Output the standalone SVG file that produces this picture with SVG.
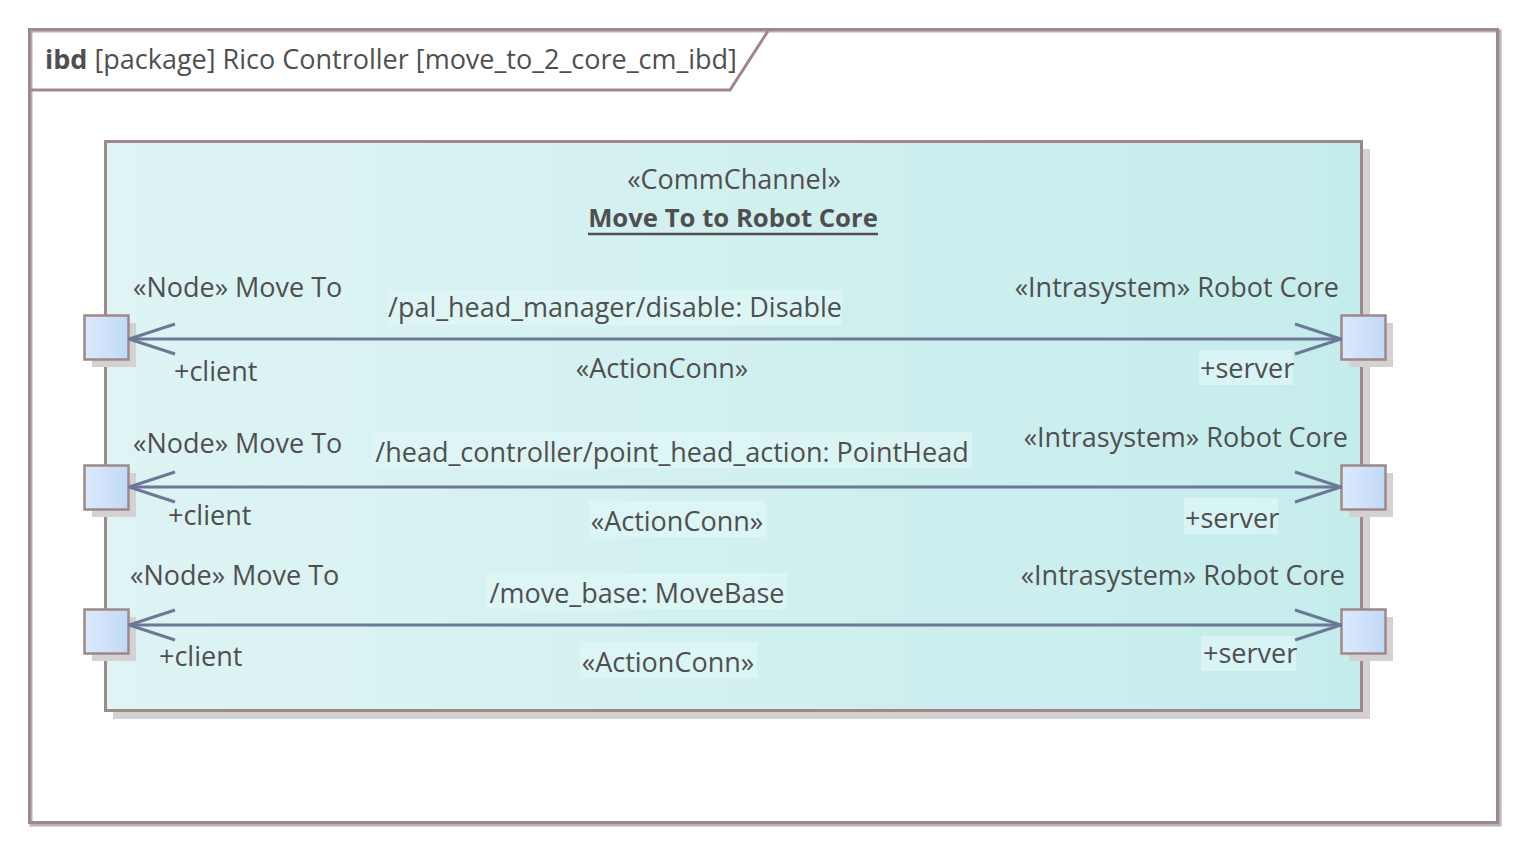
<svg xmlns="http://www.w3.org/2000/svg" width="1527" height="852" viewBox="0 0 1527 852">
<defs>
<linearGradient id="blockFill" x1="0" y1="0" x2="1" y2="0">
<stop offset="0" stop-color="#dff4f4"/>
<stop offset="1" stop-color="#c5ecec"/>
</linearGradient>
<linearGradient id="portFill" x1="0" y1="0" x2="1" y2="0">
<stop offset="0" stop-color="#dde9fb"/>
<stop offset="1" stop-color="#bfd9f6"/>
</linearGradient>
<marker id="openArrow" viewBox="0 0 50 34" refX="49" refY="17" markerWidth="50" markerHeight="34" markerUnits="userSpaceOnUse" orient="auto-start-reverse">
<path d="M3,2 L49,17 L3,32" fill="none" stroke="#6b7896" stroke-width="3"/>
</marker>
</defs>
<style>
text{font-family:"Open Sans","Noto Sans","Liberation Sans",sans-serif;fill:#4f4f4f;font-size:27px}
text.title{font-size:25.7px;font-weight:bold}
.frame{fill:none;stroke:#a08888;stroke-width:3}
.shadow{fill:#d2d2d2}
.port{fill:url(#portFill);stroke:#a08888;stroke-width:2.5}
.conn{fill:none;stroke:#6b7896;stroke-width:3;marker-start:url(#openArrow);marker-end:url(#openArrow)}
.lblbg{fill:#e0f6f6;opacity:0.7}
.mid{text-anchor:middle}
.end{text-anchor:end}
</style>
<rect width="1527" height="852" fill="#ffffff"/>
<g id="frame">
<rect x="31" y="31" width="1469" height="794" fill="none" stroke="#b4b4b4" stroke-width="3"/>
<rect x="29.5" y="29.5" width="1468" height="793" class="frame"/>
<path d="M29.5,90 L730,90 L768,31" class="frame"/>
<text x="45" y="69"><tspan font-weight="bold">ibd</tspan> [package] Rico Controller [move_to_2_core_cm_ibd]</text>
</g>
<g id="block">
<rect x="113" y="149" width="1257" height="570" class="shadow"/>
<rect x="105.5" y="141.5" width="1256" height="569" fill="url(#blockFill)" stroke="#a08888" stroke-width="3"/>
<text x="734" y="189" class="mid">«CommChannel»</text>
<text x="733" y="227" class="mid title">Move To to Robot Core</text>
<line x1="588" y1="234" x2="878" y2="234" stroke="#505050" stroke-width="2.5"/>
</g>
<g id="labels">
<rect x="388" y="290" width="454" height="35" class="lblbg"/>
<rect x="1199" y="350" width="94" height="35" class="lblbg"/>
<rect x="373" y="432" width="599" height="36" class="lblbg"/>
<rect x="589" y="501" width="177" height="36" class="lblbg"/>
<rect x="1184" y="498" width="94" height="36" class="lblbg"/>
<rect x="487" y="573" width="300" height="36" class="lblbg"/>
<rect x="580" y="642" width="177" height="36" class="lblbg"/>
<rect x="1201" y="636" width="95" height="35" class="lblbg"/>
</g>
<g id="port-client-1">
<rect x="92" y="323" width="44" height="44" class="shadow"/>
<rect x="84.5" y="315.5" width="44" height="44" class="port"/>
<text x="133" y="297">«Node» Move To</text>
<text x="174" y="381">+client</text>
</g>
<g id="port-server-1">
<rect x="1349" y="323" width="44" height="44" class="shadow"/>
<rect x="1341.5" y="315.5" width="44" height="44" class="port"/>
<text x="1339" y="297" class="end">«Intrasystem» Robot Core</text>
<text x="1200" y="378">+server</text>
</g>
<g id="port-client-2">
<rect x="92" y="473" width="44" height="44" class="shadow"/>
<rect x="84.5" y="465.5" width="44" height="44" class="port"/>
<text x="133" y="453">«Node» Move To</text>
<text x="168" y="525">+client</text>
</g>
<g id="port-server-2">
<rect x="1349" y="473" width="44" height="44" class="shadow"/>
<rect x="1341.5" y="465.5" width="44" height="44" class="port"/>
<text x="1348" y="447" class="end">«Intrasystem» Robot Core</text>
<text x="1185" y="528">+server</text>
</g>
<g id="port-client-3">
<rect x="92" y="617" width="44" height="44" class="shadow"/>
<rect x="84.5" y="609.5" width="44" height="44" class="port"/>
<text x="130" y="585">«Node» Move To</text>
<text x="159" y="666">+client</text>
</g>
<g id="port-server-3">
<rect x="1349" y="617" width="44" height="44" class="shadow"/>
<rect x="1341.5" y="609.5" width="44" height="44" class="port"/>
<text x="1345" y="585" class="end">«Intrasystem» Robot Core</text>
<text x="1203" y="663">+server</text>
</g>
<g id="connectors">
<line x1="129" y1="339" x2="1341" y2="339" class="conn"/>
<line x1="129" y1="487" x2="1341" y2="487" class="conn"/>
<line x1="129" y1="625" x2="1341" y2="625" class="conn"/>
<text x="615" y="317" class="mid">/pal_head_manager/disable: Disable</text>
<text x="662" y="378" class="mid">«ActionConn»</text>
<text x="672" y="462" class="mid">/head_controller/point_head_action: PointHead</text>
<text x="677" y="531" class="mid">«ActionConn»</text>
<text x="637" y="603" class="mid">/move_base: MoveBase</text>
<text x="668" y="672" class="mid">«ActionConn»</text>
</g>
</svg>
